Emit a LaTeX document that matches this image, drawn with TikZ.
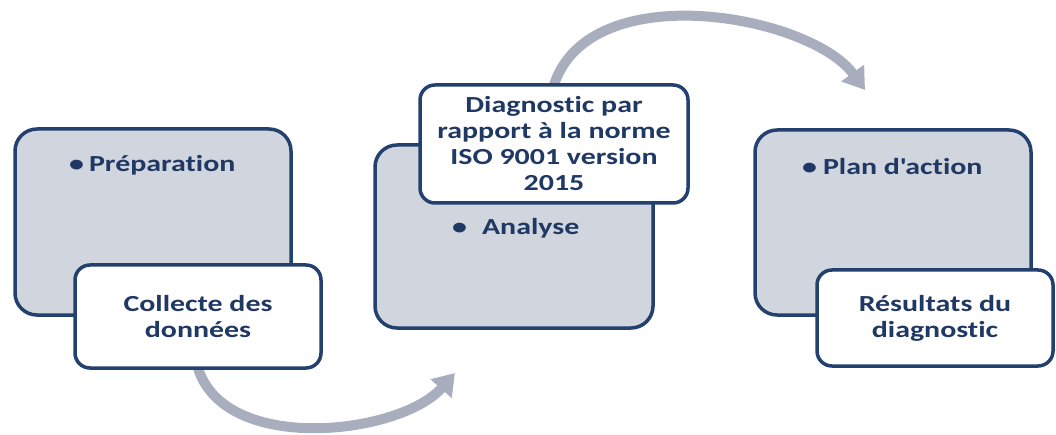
\documentclass[tikz,border=0pt]{standalone}
\usepackage{fontspec}
\setmainfont{Carlito}[FakeStretch=1.3, Ligatures={TeX,NoCommon}]
\usetikzlibrary{arrows.meta}
\definecolor{navy}{RGB}{35,64,110}
\definecolor{inktext}{RGB}{31,56,100}
\definecolor{panelgray}{RGB}{209,213,221}
\definecolor{flowgray}{RGB}{168,174,190}
\tikzset{
  panel/.style={draw=navy, line width=3.5pt, fill=panelgray, rounded corners=22pt,
    inner sep=0pt},
  card/.style={draw=navy, line width=3.5pt, fill=white, rounded corners=15pt,
    inner sep=0pt, align=center, text=inktext,
    font=\fontsize{23}{26}\selectfont\bfseries},
  bullet/.style={anchor=west, inner sep=0pt, text=inktext,
    font=\fontsize{23}{26}\selectfont\bfseries},
  flow/.style={draw=flowgray, line width=10pt,
    -{Triangle[width=27pt,length=21pt]}},
}
\begin{document}
\begin{tikzpicture}[x=1pt,y=-1pt]
\useasboundingbox (0,0) rectangle (1056,435);

% grey step panels
\node[panel, minimum width=276pt, minimum height=186pt] (p1) at (153,222) {};
\node[panel, minimum width=278pt, minimum height=183pt] (p2) at (514,236.5) {};
\node[panel, minimum width=276pt, minimum height=185pt] (p3) at (893,222.5) {};

% step titles
\node[bullet] (b1) at (69,165) {•\hspace{5pt}Préparation};
\node[bullet] (b2) at (452,228) {•\hspace{15pt}Analyse};
\node[bullet] (b3) at (802,167) {•\hspace{6pt}Plan d\textquotesingle action};

% curved flow arrows
\coordinate (e1) at (455,373);
\coordinate (e2) at (865,90);
\node[inner sep=0pt, minimum width=246pt, minimum height=103pt] (w1) at (198,316.5) {};
\node[inner sep=0pt, minimum width=268pt, minimum height=118pt] (w2) at (554,144) {};
\draw[flow] (w1.south) .. controls (225,455) and (400,435) .. (e1);
\draw[flow] (w2.north) .. controls (590,-25) and (810,15) .. (e2);

% white detail cards
\node[card, minimum width=246pt, minimum height=103pt] (c1) at (w1) {Collecte des\\données};
\node[card, minimum width=268pt, minimum height=118pt] (c2) at (w2) {Diagnostic par\\rapport à la norme\\ISO 9001 version\\2015};
\node[card, minimum width=236pt, minimum height=96pt] (c3) at (935,318) {Résultats du\\diagnostic};
\end{tikzpicture}
\end{document}
